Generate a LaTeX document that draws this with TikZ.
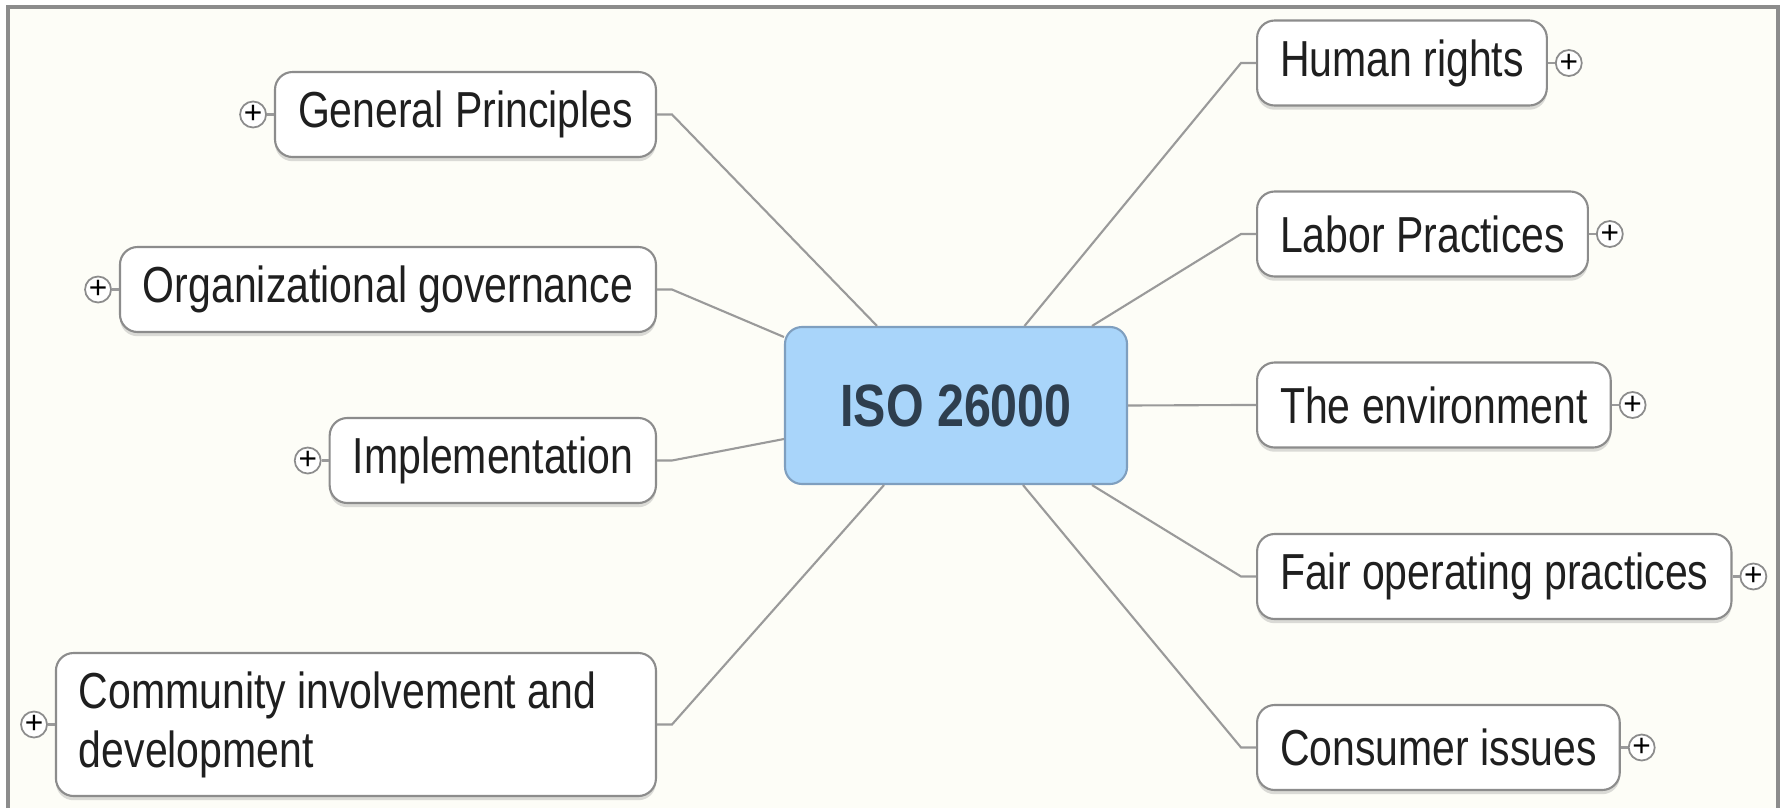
\documentclass[tikz,border=0pt]{standalone}
\usepackage{fontspec}
\setmainfont{Liberation Sans}
\newfontfamily\mapfont{Liberation Sans}[FakeStretch=0.81]
\definecolor{paper}{HTML}{FDFDF7}
\definecolor{frame}{HTML}{8C8C8C}
\definecolor{edge}{HTML}{9A9A9A}
\definecolor{hubfill}{HTML}{A9D5FA}
\definecolor{hubline}{HTML}{7F9FBF}
\definecolor{hubtext}{HTML}{2E3E4E}
\usetikzlibrary{positioning, shadows}

\begin{document}
\begin{tikzpicture}[
  topic/.style={draw=black!45, fill=white, rounded corners=5pt, line width=0.6pt,
                minimum height=0.85cm, inner xsep=0.23cm, text=black!88,
                font=\mapfont\fontsize{14.4}{16.8}\selectfont,
                drop shadow={shadow xshift=0pt, shadow yshift=-1.2pt, opacity=0.35, fill=black!40}},
  hub/.style={draw=hubline, fill=hubfill, rounded corners=0.17cm, line width=0.6pt,
              minimum width=3.42cm, minimum height=1.57cm, text=hubtext,
              font=\mapfont\bfseries\fontsize{17}{20}\selectfont},
  expander/.style={circle, draw=black!45, fill=white, line width=0.5pt,
                   minimum size=0.26cm, inner sep=0pt, font=\small},
  branch/.style={draw=edge, line width=0.6pt},
]
% paper and frame
\fill[white] (0,0) rectangle (17.85,8.08);
\fill[paper] (0.08,0) rectangle (17.78,8.01);
\draw[frame, line width=1pt] (0.08,0) -- (0.08,8.01) -- (17.78,8.01) -- (17.78,0);

% central topic
\node[hub] (iso) at (9.56,4.025) {ISO 26000};

% left side
\node[topic, anchor=east] (gp) at (6.57,6.935) {General Principles};
\node[topic, anchor=east] (og) at (6.57,5.185) {Organizational governance};
\node[topic, anchor=east] (impl) at (6.57,3.475) {Implementation};
\node[topic, anchor=east, minimum height=1.43cm] (comm) at (6.57,0.835)
  {\parbox{5.54cm}{\raggedright Community involvement and\\development}};

% right side
\node[topic, anchor=west] (hr) at (12.56,7.45) {Human rights};
\node[topic, anchor=west] (lp) at (12.56,5.74) {Labor Practices};
\node[topic, anchor=west] (env) at (12.56,4.03) {The environment};
\node[topic, anchor=west] (fair) at (12.56,2.315) {Fair operating practices};
\node[topic, anchor=west] (cons) at (12.56,0.605) {Consumer issues};

% expand buttons
\foreach \t in {gp, og, impl, comm}
  \node[expander, left=0.07cm of \t] (\t-x) {+};
\foreach \t in {hr, lp, env, fair, cons}
  \node[expander, right=0.07cm of \t] (\t-x) {+};
\foreach \t in {gp, og, impl, comm, hr, lp, env, fair, cons}
  \draw[branch] (\t-x) -- (\t);

% branches
\draw[branch] (gp.east) -- ++(0.15,0) -- ([xshift=-0.79cm]iso.north);
\draw[branch] (og.east) -- ++(0.15,0) -- ([yshift=0.685cm]iso.west);
\draw[branch] (impl.east) -- ++(0.15,0) -- ([yshift=-0.335cm]iso.west);
\draw[branch] (comm.east) -- ++(0.15,0) -- ([xshift=-0.72cm]iso.south);
\draw[branch] (hr.west) -- ++(-0.15,0) -- ([xshift=0.685cm]iso.north);
\draw[branch] (lp.west) -- ++(-0.15,0) -- ([xshift=1.36cm]iso.north);
\draw[branch] (env.west) -- ++(-0.15,0) -- (iso.east);
\draw[branch] (fair.west) -- ++(-0.15,0) -- ([xshift=1.36cm]iso.south);
\draw[branch] (cons.west) -- ++(-0.15,0) -- ([xshift=0.67cm]iso.south);
\end{tikzpicture}
\end{document}
